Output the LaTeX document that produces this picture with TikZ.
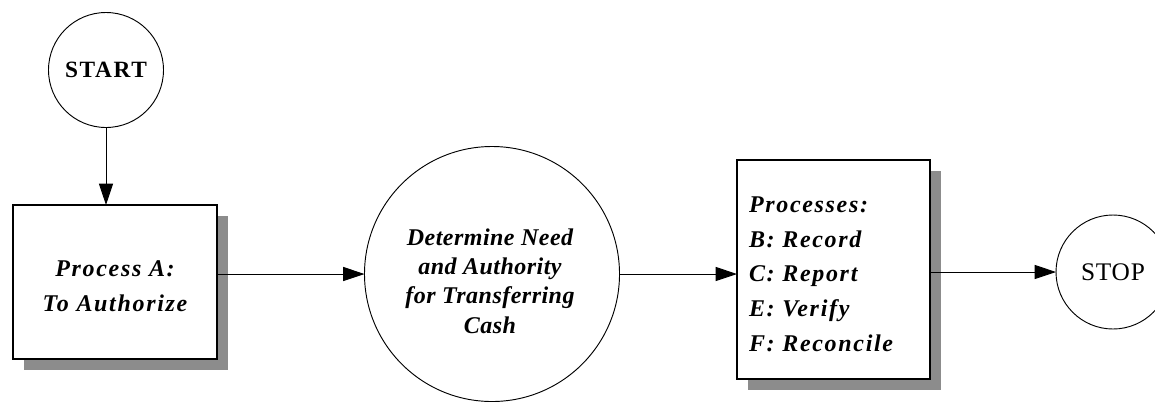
\documentclass[tikz,border=0pt]{standalone}
\usepackage{fontspec}
\setmainfont{Liberation Serif}
\usetikzlibrary{arrows.meta,shadows}
\definecolor{shadowgray}{RGB}{140,140,140}
\begin{document}
\begin{tikzpicture}[x=0.75pt,y=-0.75pt,
  every node/.style={inner sep=0pt, outer sep=0pt},
  flowline/.style={line width=0.7pt,-{Triangle[length=16pt,width=10.5pt]}},
  procbox/.style={draw, line width=0.8pt, fill=white, rectangle,
    drop shadow={shadow xshift=8.25pt, shadow yshift=-8.25pt, fill=shadowgray, opacity=1}},
  termcircle/.style={draw, line width=0.7pt, circle, fill=white},
  bigtext/.style={font=\fontsize{18}{26}\selectfont\bfseries\itshape\addfontfeature{LetterSpace=7}}
]
\useasboundingbox (0,0) rectangle (1155,404);

\node[termcircle, minimum size=86.25pt,
  font=\fontsize{17.5}{20}\selectfont\bfseries\addfontfeature{LetterSpace=7}] (start) at (106,70) {START};

\node[procbox, minimum width=153pt, minimum height=115.5pt] (pa) at (115,282) {};
\node[bigtext, align=center] (patext) at (115,286) {Process A:\\To Authorize};

\node[termcircle, minimum size=191.25pt] (det) at (492,274) {};
\node[font=\fontsize{18}{22}\selectfont\bfseries\itshape\addfontfeature{LetterSpace=2}, align=center] (dettext) at (490,281)
  {Determine Need\\and Authority\\for Transferring\\Cash};

\node[procbox, minimum width=144.75pt, minimum height=164.25pt] (pb) at (833.5,269.5) {};
\node[bigtext, align=left, anchor=west] (pbtext) at (749,274)
  {Processes:\\B: Record\\C: Report\\E: Verify\\F: Reconcile};

\node[termcircle, minimum size=85.5pt,
  font=\fontsize{19}{20}\selectfont\addfontfeature{LetterSpace=3}] (stop) at (1113,272) {STOP};

\draw[flowline] (start) -- (start |- pa.north);
\draw[flowline] (pa.east |- det.west) -- (det.west);
\draw[flowline] (det.east) -- (det.east -| pb.west);
\draw[flowline] (pb.east |- stop.west) -- (stop.west);
\end{tikzpicture}
\end{document}
